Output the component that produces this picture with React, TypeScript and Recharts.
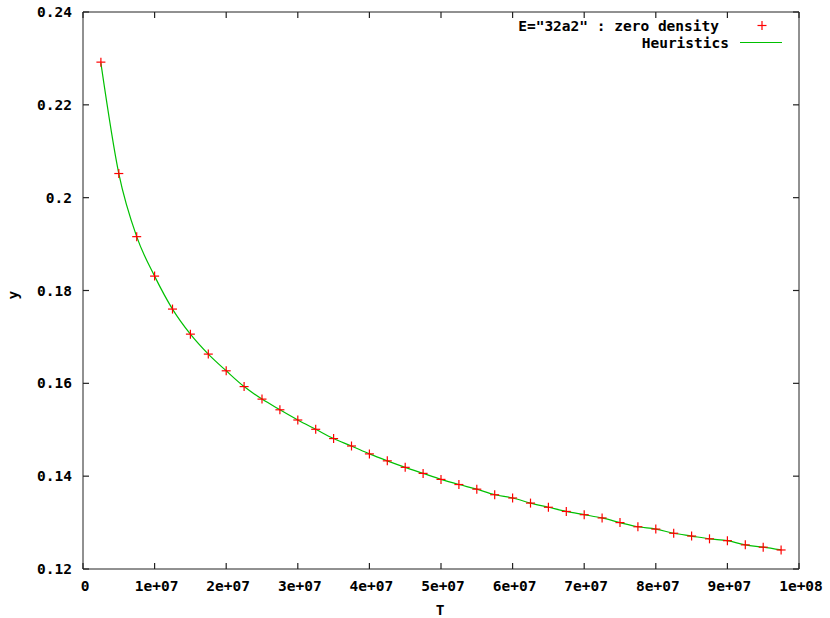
import React from 'react'
import { ComposedChart, Line, Scatter, XAxis, YAxis } from 'recharts'

// T values of the measured points
const tValues = [
  2.5e6, 5e6, 7.5e6, 1e7, 1.25e7, 1.5e7, 1.75e7, 2e7, 2.25e7, 2.5e7,
  2.75e7, 3e7, 3.25e7, 3.5e7, 3.75e7, 4e7, 4.25e7, 4.5e7, 4.75e7, 5e7,
  5.25e7, 5.5e7, 5.75e7, 6e7, 6.25e7, 6.5e7, 6.75e7, 7e7, 7.25e7, 7.5e7,
  7.75e7, 8e7, 8.25e7, 8.5e7, 8.75e7, 9e7, 9.25e7, 9.5e7, 9.75e7,
]

// E="32a2" : zero density
const zeroDensity = [
  0.2292, 0.2052, 0.1916, 0.1831, 0.176, 0.1706, 0.1663, 0.1627, 0.1593, 0.1566,
  0.1543, 0.1521, 0.1501, 0.1481, 0.1465, 0.1448, 0.1433, 0.1419, 0.1406, 0.1393,
  0.1382, 0.1372, 0.136, 0.1353, 0.1342, 0.1333, 0.1324, 0.1317, 0.131, 0.13,
  0.1291, 0.1286, 0.1277, 0.1271, 0.1265, 0.1261, 0.1252, 0.1247, 0.1241,
]

// Heuristics curve
const heuristics = [
  0.229, 0.2052, 0.1916, 0.1831, 0.176, 0.1706, 0.1663, 0.1627, 0.1593, 0.1566,
  0.1543, 0.1521, 0.1501, 0.1481, 0.1465, 0.1448, 0.1433, 0.1419, 0.1406, 0.1393,
  0.1382, 0.1372, 0.136, 0.1353, 0.1342, 0.1333, 0.1324, 0.1317, 0.131, 0.13,
  0.1291, 0.1286, 0.1277, 0.1271, 0.1265, 0.1261, 0.1252, 0.1247, 0.1241,
]

const xTicks = [0, 1e7, 2e7, 3e7, 4e7, 5e7, 6e7, 7e7, 8e7, 9e7, 1e8]
const yTicks = [0.12, 0.14, 0.16, 0.18, 0.2, 0.22, 0.24]

const data = tValues.map((t, i) => ({ T: t, y: zeroDensity[i], h: heuristics[i] }))

const FONT = '"DejaVu Sans Mono", monospace'
const tickStyle = { fill: '#000', fontSize: 14.5, fontWeight: 'bold', fontFamily: FONT }
const axisStroke = '#222'
const tickLine = { stroke: axisStroke, strokeWidth: 1.2 }

const fmtX = (v: number) => {
  if (v === 0) return '0'
  const e = Math.floor(Math.log10(v) + 1e-9)
  const m = Math.round(v / Math.pow(10, e))
  return `${m}e+${String(e).padStart(2, '0')}`
}
const fmtY = (v: number) => String(parseFloat(v.toFixed(2)))

const NoLabel = () => <g />

// gnuplot style "+" point
const Plus = (props: any) => {
  const { cx, cy } = props
  if (cx == null || cy == null) return null
  return (
    <g stroke="#ff0000" strokeWidth={1.2}>
      <line x1={cx - 4.5} y1={cy} x2={cx + 4.5} y2={cy} />
      <line x1={cx} y1={cy - 4.5} x2={cx} y2={cy + 4.5} />
    </g>
  )
}

export default function App() {
  return (
    <div style={{ position: 'absolute', left: 0, top: 0, width: 830, height: 618, background: '#fff' }}>
      <ComposedChart width={830} height={618} data={data} margin={{ top: 11, right: 30, bottom: 0, left: 0 }}>
        <XAxis
          dataKey="T"
          type="number"
          domain={[0, 1e8]}
          ticks={xTicks}
          allowDataOverflow
          height={49}
          tickSize={-6}
          tickMargin={18}
          tickFormatter={fmtX}
          tick={{ ...tickStyle, dx: 2 }}
          tickLine={tickLine}
          stroke={axisStroke}
          interval={0}
        />
        <XAxis
          xAxisId="top"
          dataKey="T"
          orientation="top"
          type="number"
          domain={[0, 1e8]}
          ticks={xTicks}
          allowDataOverflow
          height={1}
          tickSize={-6}
          tick={NoLabel}
          tickLine={tickLine}
          stroke={axisStroke}
          interval={0}
        />
        <YAxis
          type="number"
          domain={[0.12, 0.24]}
          ticks={yTicks}
          allowDataOverflow
          width={83}
          tickSize={-6}
          tickMargin={17}
          tickFormatter={fmtY}
          tick={tickStyle}
          tickLine={tickLine}
          stroke={axisStroke}
          interval={0}
        />
        <YAxis
          yAxisId="right"
          orientation="right"
          type="number"
          domain={[0.12, 0.24]}
          ticks={yTicks}
          allowDataOverflow
          width={1}
          tickSize={-6}
          tick={NoLabel}
          tickLine={tickLine}
          stroke={axisStroke}
          interval={0}
        />
        {/* invisible series so the mirrored border axes get drawn */}
        <Line
          xAxisId="top"
          yAxisId="right"
          dataKey="h"
          stroke="none"
          dot={false}
          activeDot={false}
          isAnimationActive={false}
        />
        <Scatter dataKey="y" shape={<Plus />} isAnimationActive={false} />
        <Line
          type="monotone"
          dataKey="h"
          stroke="#00c000"
          strokeWidth={1.2}
          dot={false}
          activeDot={false}
          isAnimationActive={false}
        />
      </ComposedChart>
      <svg width={830} height={618} style={{ position: 'absolute', left: 0, top: 0, pointerEvents: 'none' }}>
        <g fontFamily={FONT} fontWeight="bold" fontSize={14.5} fill="#000">
          <text x={719} y={26} textAnchor="end" dominantBaseline="central">E="32a2" : zero density</text>
          <text x={729} y={43} textAnchor="end" dominantBaseline="central">Heuristics</text>
          <text x={13} y={295} textAnchor="middle" dominantBaseline="central" transform="rotate(-90 13 295)">y</text>
          <text x={440} y={610} textAnchor="middle" dominantBaseline="central">T</text>
        </g>
        <g stroke="#ff0000" strokeWidth={1.2}>
          <line x1={757.5} y1={25.5} x2={766.5} y2={25.5} />
          <line x1={762} y1={21} x2={762} y2={30} />
        </g>
        <line x1={740} y1={42.5} x2={782} y2={42.5} stroke="#00c000" strokeWidth={1.2} />
      </svg>
    </div>
  )
}
